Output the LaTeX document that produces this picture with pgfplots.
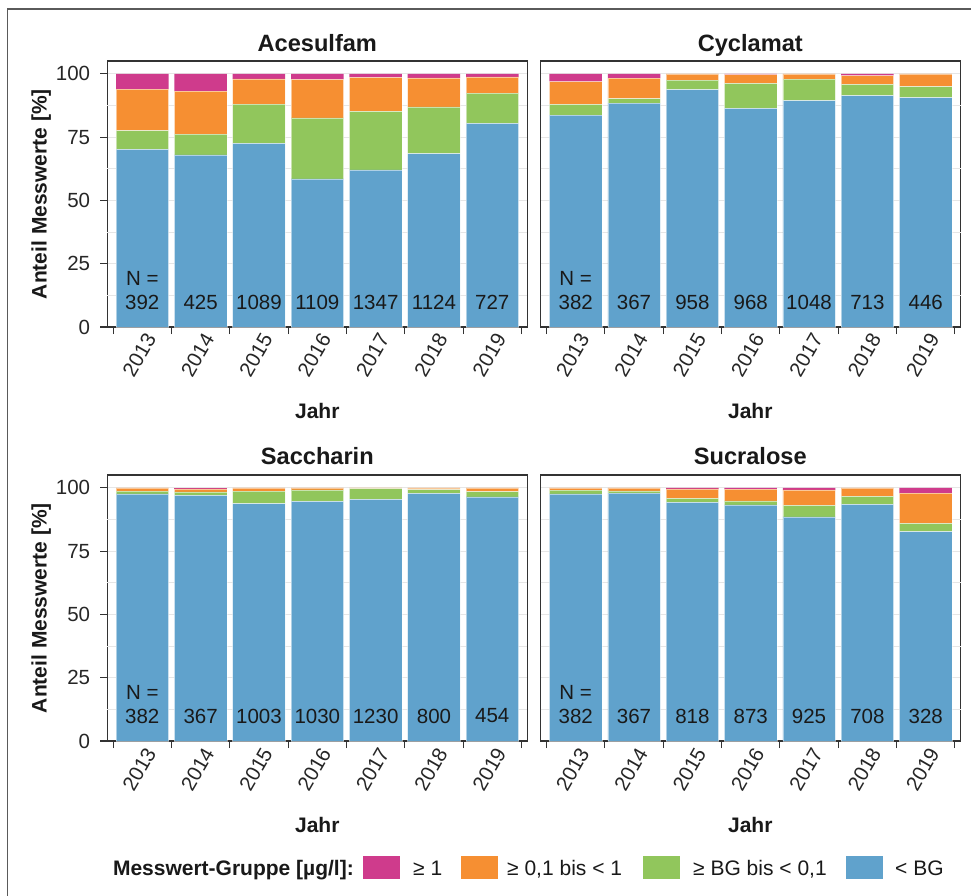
\documentclass[border=0pt]{standalone}
\usepackage{fontspec}
\setmainfont{Liberation Sans}
\usepackage{pgfplots}
\usepackage{pgfplotstable}
\pgfplotsset{compat=1.18}
\definecolor{cMag}{RGB}{207,59,140}
\definecolor{cOra}{RGB}{246,143,50}
\definecolor{cGre}{RGB}{145,198,92}
\definecolor{cBlu}{RGB}{96,162,204}
\definecolor{cFrame}{RGB}{51,51,51}
\definecolor{cGrid}{RGB}{230,230,230}
\definecolor{cOuter}{RGB}{90,90,90}

\pgfplotstableread{
x blue green orange magenta
0 70.2 7.4 16.4 6.0
1 68.0 8.2 17.0 6.8
2 72.6 15.5 9.9 2.0
3 58.5 24.1 15.2 2.2
4 62.1 23.1 13.4 1.4
5 68.5 18.5 11.4 1.6
6 80.5 11.9 6.4 1.2
}\acs
\pgfplotstableread{
x blue green orange magenta
0 83.7 4.3 9.0 3.0
1 88.5 1.7 8.1 1.7
2 93.8 3.7 2.5 0
3 86.4 9.9 3.4 0.3
4 89.4 8.5 2.1 0
5 91.4 4.5 3.4 0.7
6 90.6 4.4 5.0 0
}\cyc
\pgfplotstableread{
x blue green orange magenta
0 97.6 1.1 1.3 0
1 97.1 1.3 1.2 0.4
2 93.8 4.9 1.3 0
3 94.7 4.5 0.8 0
4 95.5 4.2 0.3 0
5 97.8 1.5 0.7 0
6 96.5 2.0 1.5 0
}\sac
\pgfplotstableread{
x blue green orange magenta
0 97.6 1.5 0.9 0
1 97.9 0.9 1.2 0
2 94.3 1.6 3.7 0.4
3 93.3 1.6 4.6 0.5
4 88.6 4.5 6.1 0.8
5 93.5 3.2 3.3 0
6 82.7 3.3 11.9 2.1
}\suc

\pgfplotsset{
 panel/.style={
  width=420pt, height=266pt, scale only axis,
  xmin=-0.6, xmax=6.6, ymin=0, ymax=105.1,
  ybar stacked, bar width=0.9,
  font=\fontsize{20.5}{24}\selectfont,
  /pgf/number format/assume math mode=true,
  xtick={0,...,6}, xticklabels={2013,2014,2015,2016,2017,2018,2019},
  minor xtick={-0.5,0.5,...,6.5},
  ytick={0,25,50,75,100},
  extra y ticks={12.5,37.5,62.5,87.5}, extra y tick labels={},
  extra y tick style={grid=major, major y tick style={draw=none}},
  ymajorgrids, major grid style={cGrid, line width=1pt},
  tick align=outside, tick pos=left,
  major tick length=7pt, minor tick length=7pt,
  tick style={cFrame, line width=1.1pt},
  major x tick style={draw=none},
  axis line style={cFrame, line width=1.3pt},
  ticklabel style={text=black!85},
  xticklabel style={rotate=60, anchor=east, inner sep=0pt, yshift=-8pt, xshift=3pt},
  yticklabel style={inner sep=0pt, xshift=-10pt},
 },
 rightpanel/.style={yticklabels={}, major y tick style={draw=none}},
 bars/.style={draw=white, draw opacity=0.5, line width=0.5pt},
}
\newcommand{\stackbars}[1]{%
  \addplot[bars, fill=cBlu] table[x=x,y=blue]{#1};
  \addplot[bars, fill=cGre] table[x=x,y=green]{#1};
  \addplot[bars, fill=cOra] table[x=x,y=orange]{#1};
  \addplot[draw=none, fill=cMag] table[x=x,y=magenta]{#1};
}

\begin{document}
\begin{tikzpicture}
\useasboundingbox (0pt,0pt) rectangle (971pt,-895pt);
\fill[white] (0pt,0pt) rectangle (971pt,-895pt);
\draw[cOuter, line width=1.5pt] (7.5pt,-900pt) -- (7.5pt,-9pt) -- (975pt,-9pt);

\begin{axis}[panel, at={(107.3pt,-327pt)}, anchor=south west]
\stackbars{\acs}
\end{axis}
\begin{axis}[panel, rightpanel, at={(540.7pt,-327pt)}, anchor=south west]
\stackbars{\cyc}
\end{axis}
\begin{axis}[panel, at={(107.3pt,-741pt)}, anchor=south west]
\stackbars{\sac}
\end{axis}
\begin{axis}[panel, rightpanel, at={(540.7pt,-741pt)}, anchor=south west]
\stackbars{\suc}
\end{axis}

% sample sizes
\begin{scope}[every node/.style={font=\fontsize{20.5}{24}\selectfont, text=black!90}]
\node at (142.3pt,-278pt) {N =};
\node at (575.7pt,-278pt) {N =};
\node at (142.3pt,-692pt) {N =};
\node at (575.7pt,-692pt) {N =};
\foreach \v [count=\i from 0] in {392,425,1089,1109,1347,1124,727}
  \node at ({142.3pt+58.333pt*\i},-302pt) {\v};
\foreach \v [count=\i from 0] in {382,367,958,968,1048,713,446}
  \node at ({575.7pt+58.333pt*\i},-302pt) {\v};
\foreach \v [count=\i from 0] in {382,367,1003,1030,1230,800,454}
  \node at ({142.3pt+58.333pt*\i},-716pt) {\v};
\foreach \v [count=\i from 0] in {382,367,818,873,925,708,328}
  \node at ({575.7pt+58.333pt*\i},-716pt) {\v};
\end{scope}

% panel titles
\begin{scope}[every node/.style={font=\bfseries\fontsize{23.6}{28}\selectfont, text=black!90, anchor=base}]
\node at (317.3pt,-51.5pt) {Acesulfam};
\node at (750.3pt,-51.5pt) {Cyclamat};
\node at (317.3pt,-464pt) {Saccharin};
\node at (750.3pt,-464pt) {Sucralose};
\end{scope}
% axis titles
\begin{scope}[every node/.style={font=\bfseries\fontsize{21}{25}\selectfont, text=black!90}]
\node[anchor=base] at (317.3pt,-418pt) {Jahr};
\node[anchor=base] at (750.3pt,-418pt) {Jahr};
\node[anchor=base] at (317.3pt,-832pt) {Jahr};
\node[anchor=base] at (750.3pt,-832pt) {Jahr};
\node[rotate=90, anchor=base] at (46.5pt,-194pt) {Anteil Messwerte [\%]};
\node[rotate=90, anchor=base] at (46.5pt,-608pt) {Anteil Messwerte [\%]};
\end{scope}
% legend
\begin{scope}[every node/.style={font=\fontsize{21}{25}\selectfont, text=black!90, inner sep=0pt}]
\node[anchor=base east, font=\bfseries\fontsize{21}{25}\selectfont] at (354pt,-875pt) {Messwert-Gruppe [µg/l]:};
\fill[cMag] (363pt,-856pt) rectangle (400pt,-879pt);
\node[anchor=base west] at (413pt,-875pt) {≥ 1};
\fill[cOra] (460.5pt,-856pt) rectangle (497.5pt,-879pt);
\node[anchor=base west] at (507pt,-875pt) {≥ 0,1 bis < 1};
\fill[cGre] (643pt,-856pt) rectangle (680pt,-879pt);
\node[anchor=base west] at (693pt,-875pt) {≥ BG bis < 0,1};
\fill[cBlu] (846pt,-856pt) rectangle (883pt,-879pt);
\node[anchor=base west] at (895pt,-875pt) {< BG};
\end{scope}
\end{tikzpicture}
\end{document}
